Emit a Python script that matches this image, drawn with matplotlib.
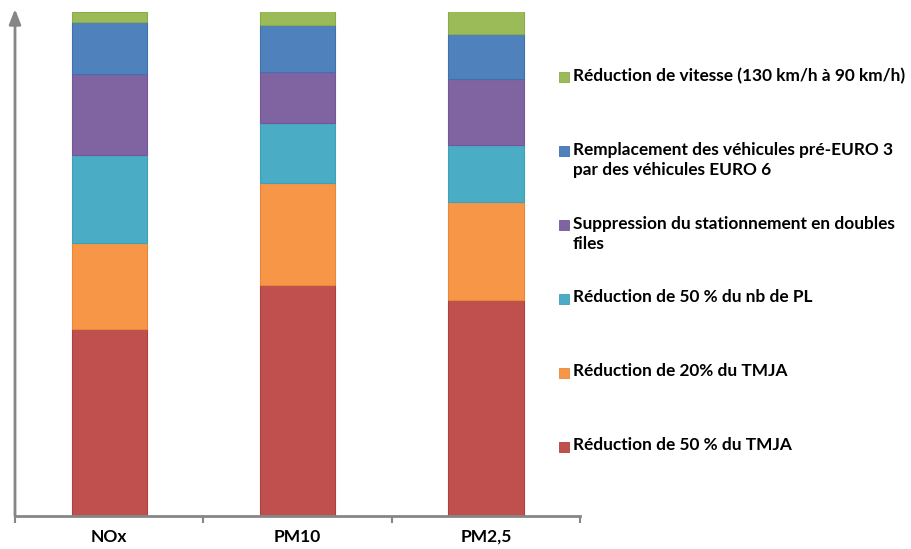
import matplotlib.pyplot as plt
import numpy as np

categories = ["NOx", "PM10", "PM2,5"]

# parts in % of the total reduction, bottom to top
red_50_tmja = [37.1, 45.8, 42.8]
orange_20_tmja = [17.0, 20.2, 19.4]
teal_50_pl = [17.4, 11.9, 11.3]
purple_doubles_files = [16.1, 10.1, 13.1]
blue_euro = [10.3, 9.3, 8.9]
green_vitesse = [2.1, 2.7, 4.5]

series = [red_50_tmja, orange_20_tmja, teal_50_pl, purple_doubles_files, blue_euro, green_vitesse]
labels = ["Réduction de 50 % du TMJA",
          "Réduction de 20% du TMJA",
          "Réduction de 50 % du nb de PL",
          "Suppression du stationnement en doubles\nfiles",
          "Remplacement des véhicules pré-EURO 3\npar des véhicules EURO 6",
          "Réduction de vitesse (130 km/h à 90 km/h)"]
colors = ["#C0504D", "#F79646", "#4BACC6", "#8064A2", "#4F81BD", "#9BBB59"]
edges = ["#B0403D", "#E8873A", "#40A0BA", "#72589A", "#3F71AD", "#8BAB4B"]

plt.rcParams['font.family'] = ['Lato', 'DejaVu Sans']

W, H = 911, 549
fig = plt.figure(figsize=(W/100, H/100), dpi=100)
ax = fig.add_axes([15/W, 33/H, 565/W, 504.5/H])

x = np.arange(len(categories))
bottom = np.zeros(len(categories))
for vals, col, ec in zip(series, colors, edges):
    ax.bar(x, vals, 0.4, bottom=bottom, color=col, edgecolor=ec, linewidth=0.8)
    bottom += np.array(vals)

ax.set_xlim(-0.5, 2.5)
ax.set_ylim(0, 100)
axis_col = "#868686"
for s in ["top", "right", "left"]:
    ax.spines[s].set_visible(False)
ax.spines["bottom"].set_color(axis_col)
ax.spines["bottom"].set_linewidth(2)
ax.set_yticks([])
ax.set_xticks(x)
ax.set_xticklabels(categories, fontsize=12.5, fontweight='bold')
ax.tick_params(axis='x', which='major', length=0, pad=9)
ax.set_xticks([-0.5, 0.5, 1.5, 2.5], minor=True)
ax.tick_params(axis='x', which='minor', length=5, width=1.5, color=axis_col, direction='out')

# y axis with arrow head
ax.annotate("", xy=(-0.5, 100.5), xytext=(-0.5, 0), xycoords='data',
            arrowprops=dict(arrowstyle='-|>,head_length=0.9,head_width=0.35', color=axis_col, lw=2,
                            shrinkA=0, shrinkB=0), annotation_clip=False)

# legend, top entry first
for i, (lab, col) in enumerate(zip(labels[::-1], colors[::-1])):
    yc = 77 + 74*i
    fig.patches.append(plt.Rectangle((559/W, 1 - (yc + 5)/H), 10/W, 10/H, transform=fig.transFigure,
                                     facecolor=col, edgecolor=edges[::-1][i], linewidth=0.6))
    fig.text(573/W, 1 - (yc - 9.5)/H, lab, fontsize=12.4, fontweight='bold', va='top', ha='left',
             linespacing=1.33)

fig.savefig("out.png", dpi=100)
